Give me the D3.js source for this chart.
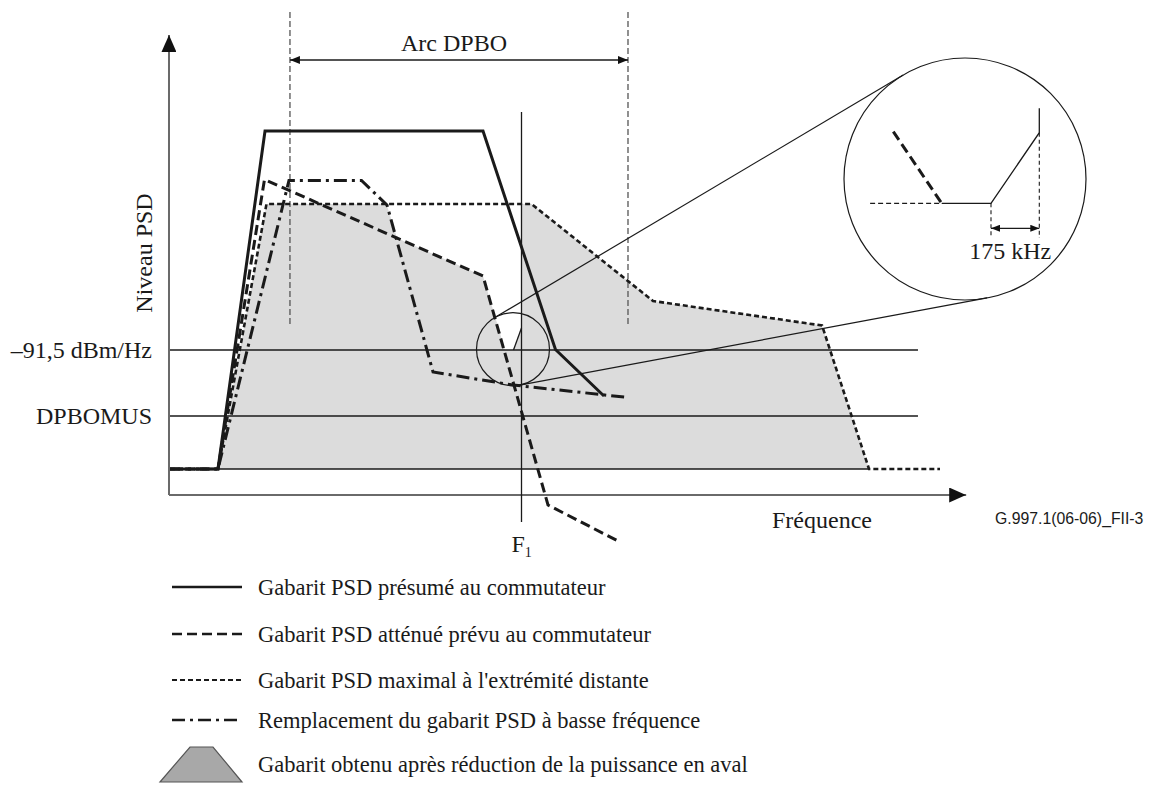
<!DOCTYPE html>
<html><head><meta charset="utf-8">
<script src="https://cdn.jsdelivr.net/npm/d3@7"></script>
<style>body{margin:0;background:#fff}svg{display:block}</style>
</head><body><svg id="c" width="1154" height="785"></svg>
<script>
// ---------- DATA (frequency: arbitrary units 0..100, level: arbitrary units 0..100) ----------
const presumedF    = [0, 6.23, 12.34, 40.65, 50.06, 56.36];
const presumedL    = [0, 0, 100, 100, 35.35, 21.6];
const attenuatedF  = [0, 6.23, 12.27, 40.65, 49.09, 58.05];
const attenuatedL  = [0, 0, 85.65, 57.1, -10.65, -21.15];
const maximalF     = [0, 6.23, 12.53, 46.95, 62.73, 84.68, 90.78, 100];
const maximalL     = [0, 0, 78.4, 78.4, 49.7, 42.46, 0, 0];
const replacementF = [0, 6.23, 15.45, 24.87, 28.18, 34.16, 44.55, 59.48];
const replacementL = [0, 0, 85.36, 85.36, 78.1, 28.7, 24.85, 21.15];
const resultF      = [6.23, 12.53, 28.12, 29.48, 40.65, 43.51, 44.61, 45.65, 45.65, 46.95, 62.73, 84.68, 90.78];
const resultL      = [0, 78.4, 78.4, 68.34, 57.1, 35.2, 35.2, 41.72, 78.4, 78.4, 49.7, 42.46, 0];
const rampF        = [44.61, 45.65];
const rampL        = [35.2, 41.72];
const refLevels    = [35.2, 15.68];
const refLabels    = ["\u201391,5 dBm/Hz", "DPBOMUS"];
const F1           = 45.65;
const dpboArc      = [15.58, 59.48];
const axisTitles   = ["Niveau PSD", "Fréquence"];
// inset (kHz relative to ramp start, level units)
const insetAttF  = [-354, -178.6];
const insetAttL  = [75.4, 0];
const insetMaxF  = [-438, -178.6];
const insetMaxL  = [0, 0];
const insetResF  = [-178.6, 0, 175, 175];
const insetResL  = [0, 0, 74.3, 100];
const insetSpan  = [0, 175];
const insetLabel = "175 kHz";
const legendLabels = [
  "Gabarit PSD présumé au commutateur",
  "Gabarit PSD atténué prévu au commutateur",
  "Gabarit PSD maximal à l'extrémité distante",
  "Remplacement du gabarit PSD à basse fréquence",
  "Gabarit obtenu après réduction de la puissance en aval"
];
const figureId = "G.997.1(06-06)_FII-3";

// ---------- DRAWING ----------
const svg = d3.select("#c");
const serif = "'Liberation Serif','Times New Roman',serif";
const x = d3.scaleLinear().domain([0, 100]).range([170, 940]);
const y = d3.scaleLinear().domain([0, 100]).range([469, 131]);
const zip = (a, b) => a.map((v, i) => [v, b[i]]);
const line = d3.line().x(d => x(d[0])).y(d => y(d[1]));
const ink = "#1a1a1a";
const labelSize = 24, legendSize = 22.5;

const styles = {
  solid:   {w: 3,   dash: null},
  dashed:  {w: 3,   dash: "10,5"},
  dotted:  {w: 2.6, dash: "5,3"},
  dashdot: {w: 3,   dash: "13,5,3,5"}
};

// markers
const defs = svg.append("defs");
function marker(id, len, hw, color) {
  defs.append("marker").attr("id", id).attr("viewBox", `0 ${-hw} ${len} ${2*hw}`)
    .attr("refX", len).attr("refY", 0).attr("markerWidth", len).attr("markerHeight", 2*hw)
    .attr("markerUnits", "userSpaceOnUse").attr("orient", "auto-start-reverse")
    .append("path").attr("d", `M0,${-hw}L${len},0L0,${hw}Z`).attr("fill", color);
}
marker("axArrow", 17, 7.5, "#111");
marker("smArrow", 10, 4, "#111");
marker("tnArrow", 9, 3.5, "#111");

// shaded result
svg.append("path").attr("d", line(zip(resultF, resultL)) + "Z")
  .attr("fill", "#dcdcdc").attr("stroke", "none");

// baseline under shade
svg.append("line").attr("x1", x(0)).attr("x2", x(90.78)).attr("y1", y(0)).attr("y2", y(0))
  .attr("stroke", ink).attr("stroke-width", 1.3);

// reference levels
const refEnd = 97.14;
refLevels.forEach((lv, i) => {
  svg.append("line").attr("x1", x(0)).attr("x2", x(refEnd)).attr("y1", y(lv)).attr("y2", y(lv))
    .attr("stroke", ink).attr("stroke-width", 1.3);
  svg.append("text").attr("x", 152).attr("y", y(lv)).attr("dy", "0.35em")
    .attr("text-anchor", "end").attr("font-family", serif).attr("font-size", labelSize)
    .attr("fill", ink).text(refLabels[i]);
});

// axes
svg.append("line").attr("x1", x(-0.13)).attr("x2", x(-0.13)).attr("y1", y(-7.7)).attr("y2", y(128.4))
  .attr("stroke", "#6a6a6a").attr("stroke-width", 2).attr("marker-end", "url(#axArrow)");
svg.append("line").attr("x1", x(-0.13)).attr("x2", x(103.4)).attr("y1", y(-7.7)).attr("y2", y(-7.7))
  .attr("stroke", "#6a6a6a").attr("stroke-width", 2).attr("marker-end", "url(#axArrow)");

// DPBO arc verticals and arrow
dpboArc.forEach(f => {
  svg.append("line").attr("x1", x(f)).attr("x2", x(f)).attr("y1", y(135.2)).attr("y2", y(42.6))
    .attr("stroke", "#555").attr("stroke-width", 1.3).attr("stroke-dasharray", "6,3");
});
svg.append("line").attr("x1", x(dpboArc[0])).attr("x2", x(dpboArc[1])).attr("y1", y(121)).attr("y2", y(121))
  .attr("stroke", ink).attr("stroke-width", 1.5)
  .attr("marker-start", "url(#smArrow)").attr("marker-end", "url(#smArrow)");
svg.append("text").attr("x", x((dpboArc[0] + dpboArc[1]) / 2) - 5).attr("y", 51)
  .attr("text-anchor", "middle").attr("font-family", serif).attr("font-size", labelSize).attr("fill", ink)
  .text("Arc DPBO");

// F1 line
svg.append("line").attr("x1", x(F1)).attr("x2", x(F1)).attr("y1", y(105.6)).attr("y2", y(-15.7))
  .attr("stroke", ink).attr("stroke-width", 1.3);
const f1t = svg.append("text").attr("x", x(F1) - 10).attr("y", 552)
  .attr("font-family", serif).attr("font-size", labelSize).attr("fill", ink);
f1t.append("tspan").text("F");
f1t.append("tspan").attr("font-size", 14).attr("dy", 5).text("1");

// ramp in small circle
svg.append("path").attr("d", line(zip(rampF, rampL))).attr("fill", "none")
  .attr("stroke", ink).attr("stroke-width", 1.3);

// curves
function curve(F, L, st) {
  svg.append("path").attr("d", line(zip(F, L))).attr("fill", "none")
    .attr("stroke", ink).attr("stroke-width", st.w).attr("stroke-dasharray", st.dash)
    .attr("stroke-linejoin", "miter");
}
curve(maximalF, maximalL, styles.dotted);
curve(replacementF, replacementL, styles.dashdot);
curve(attenuatedF, attenuatedL, styles.dashed);
curve(presumedF, presumedL, styles.solid);

// magnifier circles + external tangents
const c1 = {x: x(rampF[0]) - 0.5, y: y(rampL[0]) - 0.8, r: 36.5};
const c2 = {x: 965, y: 179, r: 121};
[c1, c2].forEach(c => svg.append("circle").attr("cx", c.x).attr("cy", c.y).attr("r", c.r)
  .attr("fill", "none").attr("stroke", ink).attr("stroke-width", 1.2));
{
  const dx = c2.x - c1.x, dy = c2.y - c1.y, Ld = Math.hypot(dx, dy);
  const th = Math.atan2(dy, dx), a = Math.acos((c2.r - c1.r) / Ld);
  [th + a, th - a].forEach(phi => {
    const nx = Math.cos(phi), ny = Math.sin(phi);
    svg.append("line")
      .attr("x1", c1.x - c1.r * nx).attr("y1", c1.y - c1.r * ny)
      .attr("x2", c2.x - c2.r * nx).attr("y2", c2.y - c2.r * ny)
      .attr("stroke", ink).attr("stroke-width", 1.2);
  });
}

// inset content
const xi = d3.scaleLinear().domain([0, 175]).range([991, 1039.3]);
const yi = d3.scaleLinear().domain([0, 100]).range([203.3, 108.3]);
const iline = d3.line().x(d => xi(d[0])).y(d => yi(d[1]));
svg.append("path").attr("d", iline(zip(insetMaxF, insetMaxL))).attr("fill", "none")
  .attr("stroke", ink).attr("stroke-width", 1.3).attr("stroke-dasharray", "5,3");
svg.append("path").attr("d", iline(zip(insetAttF, insetAttL))).attr("fill", "none")
  .attr("stroke", ink).attr("stroke-width", 3).attr("stroke-dasharray", "10,5");
svg.append("path").attr("d", iline(zip(insetResF, insetResL))).attr("fill", "none")
  .attr("stroke", ink).attr("stroke-width", 1.3);
insetSpan.forEach(k => {
  svg.append("line").attr("x1", xi(k)).attr("x2", xi(k))
    .attr("y1", yi(k === 0 ? 0 : 74.3)).attr("y2", yi(-36.5))
    .attr("stroke", ink).attr("stroke-width", 1.1).attr("stroke-dasharray", "4,3");
});
svg.append("line").attr("x1", xi(insetSpan[0])).attr("x2", xi(insetSpan[1]))
  .attr("y1", yi(-26.3)).attr("y2", yi(-26.3)).attr("stroke", ink).attr("stroke-width", 1.3)
  .attr("marker-start", "url(#tnArrow)").attr("marker-end", "url(#tnArrow)");
svg.append("text").attr("x", xi(87.5) - 5).attr("y", 259).attr("text-anchor", "middle")
  .attr("font-family", serif).attr("font-size", labelSize).attr("fill", ink).text(insetLabel);

// axis titles
svg.append("text").attr("transform", `translate(152,253) rotate(-90)`).attr("text-anchor", "middle")
  .attr("font-family", serif).attr("font-size", labelSize).attr("fill", ink).text(axisTitles[0]);
svg.append("text").attr("x", 772).attr("y", 528)
  .attr("font-family", serif).attr("font-size", labelSize).attr("fill", ink).text(axisTitles[1]);
svg.append("text").attr("x", 995).attr("y", 524)
  .attr("font-family", "'Liberation Sans',Arial,sans-serif").attr("font-size", 15.8).attr("fill", ink).text(figureId);

// legend
const legY = [587, 634, 680, 720, 764];
const legStyles = [styles.solid, styles.dashed, styles.dotted, styles.dashdot];
legStyles.forEach((st, i) => {
  svg.append("line").attr("x1", 172).attr("x2", 242).attr("y1", legY[i]).attr("y2", legY[i])
    .attr("stroke", ink).attr("stroke-width", st === styles.dotted ? 2 : 2.6).attr("stroke-dasharray", st.dash);
});
svg.append("path").attr("d", `M160,${legY[4]+18}L190,${legY[4]-17}L213,${legY[4]-17}L242,${legY[4]+18}Z`)
  .attr("fill", "#a8a8a8").attr("stroke", "#555").attr("stroke-width", 1.2);
legendLabels.forEach((t, i) => {
  svg.append("text").attr("x", 258).attr("y", legY[i]).attr("dy", "0.35em")
    .attr("font-family", serif).attr("font-size", legendSize).attr("fill", ink).text(t);
});
</script></body></html>
